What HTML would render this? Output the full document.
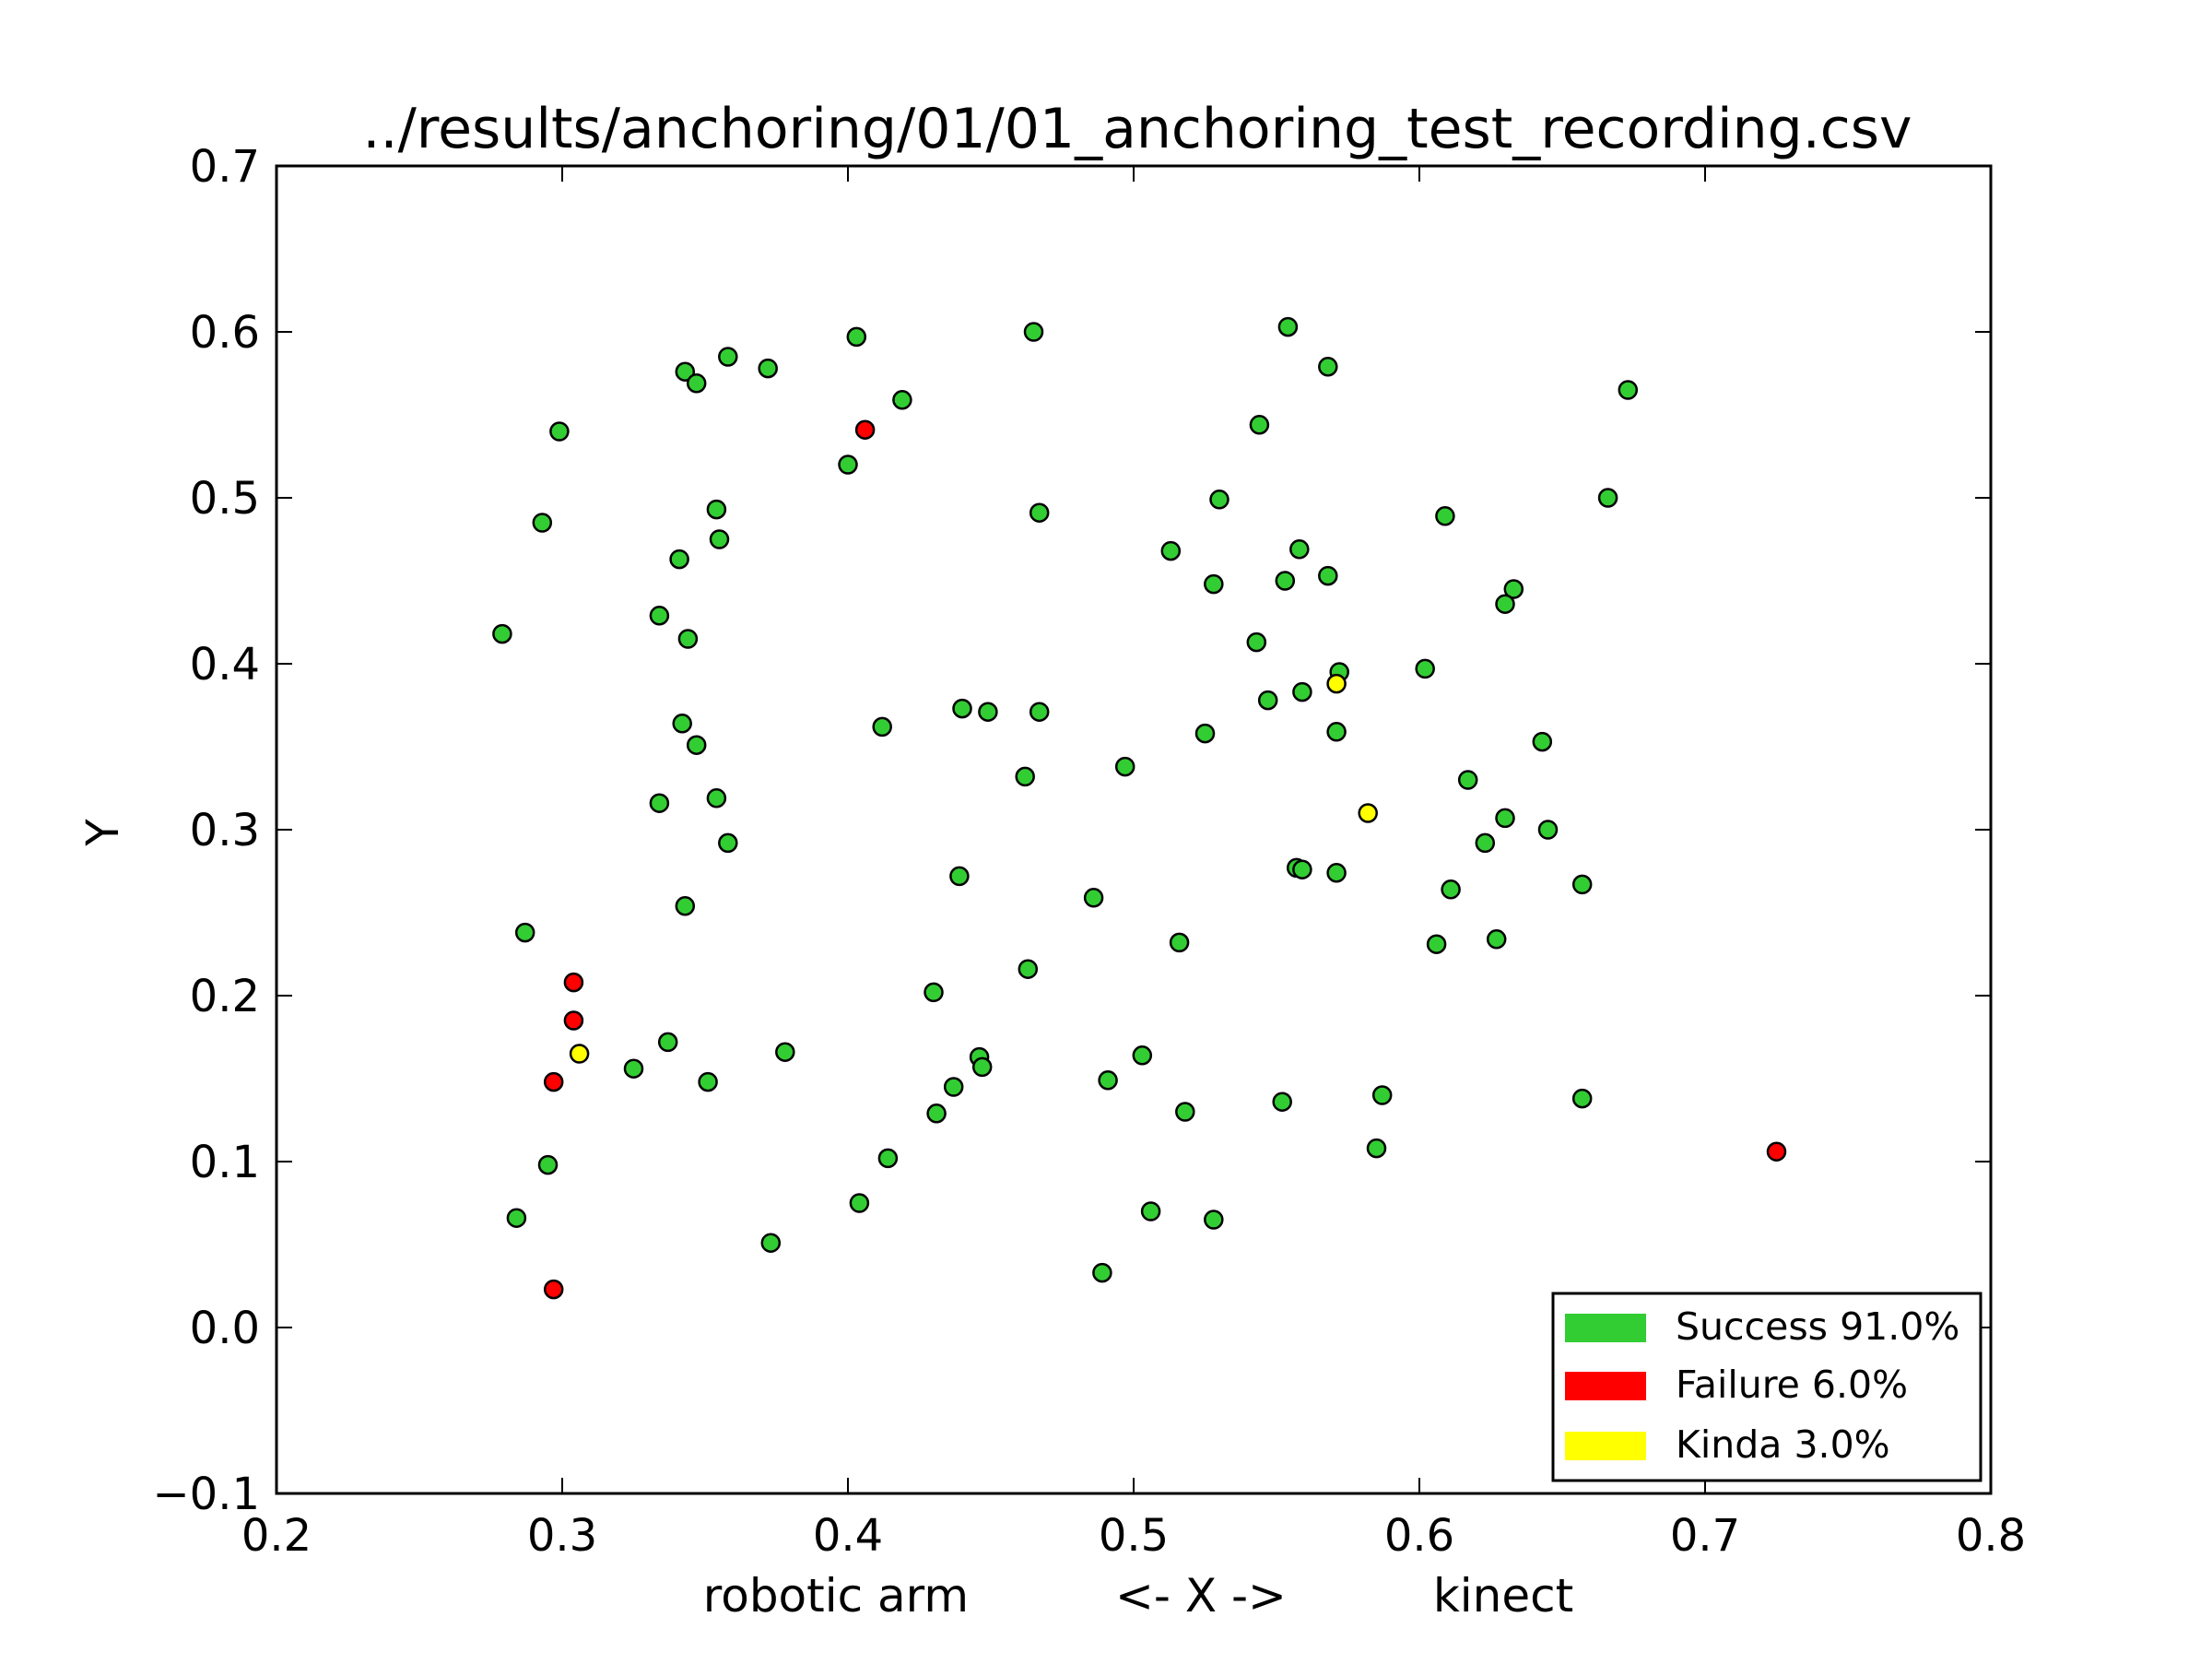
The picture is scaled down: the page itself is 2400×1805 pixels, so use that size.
<!DOCTYPE html>
<html><head><meta charset="utf-8"><style>
html,body{margin:0;padding:0;background:#fff}
svg text{font-family:"DejaVu Sans","Liberation Sans",sans-serif;fill:#000}
</style></head><body>
<svg id="chart" width="2400" height="1800" xmlns="http://www.w3.org/2000/svg">
<rect width="2400" height="1800" fill="#fff"/>
<text x="1234" y="160" font-size="60" text-anchor="middle">../results/anchoring/01/01_anchoring_test_recording.csv</text>
<g id="ticks"></g>
<g id="points"></g>
<rect x="300" y="180" width="1860" height="1440" fill="none" stroke="#000" stroke-width="3"/>
<text x="1235" y="1748" font-size="50" text-anchor="middle" style="white-space:pre" xml:space="preserve">robotic arm          &lt;- X -&gt;          kinect</text>
<text transform="translate(128,903) rotate(-90)" font-size="48" text-anchor="middle">Y</text>
<g>
<rect x="1685" y="1403" width="464" height="203" fill="#fff" stroke="#000" stroke-width="3"/>
<rect x="1698" y="1425" width="88" height="31" fill="#32cd32"/>
<text x="1818" y="1453" font-size="41">Success 91.0%</text>
<rect x="1698" y="1488" width="88" height="31" fill="#ff0000"/>
<text x="1818" y="1516" font-size="41">Failure 6.0%</text>
<rect x="1698" y="1553" width="88" height="31" fill="#ffff00"/>
<text x="1818" y="1581" font-size="41">Kinda 3.0%</text>
</g>
</svg>
<script>
const xTicks=[0.2,0.3,0.4,0.5,0.6,0.7,0.8];
const xTickLabels=["0.2","0.3","0.4","0.5","0.6","0.7","0.8"];
const yTicks=[-0.1,0.0,0.1,0.2,0.3,0.4,0.5,0.6,0.7];
const yTickLabels=["\u22120.1","0.0","0.1","0.2","0.3","0.4","0.5","0.6","0.7"];
const successX=[0.279,0.299,0.293,0.287,0.295,0.284,0.343,0.347,0.358,0.372,0.403,0.419,0.400,0.354,0.355,0.341,0.334,0.344,0.342,0.347,0.334,0.354,0.358,0.343,0.337,0.325,0.351,0.378,0.373,0.404,0.414,0.412,0.440,0.449,0.439,0.430,0.446,0.447,0.437,0.431,0.465,0.467,0.467,0.462,0.463,0.497,0.486,0.491,0.503,0.489,0.506,0.516,0.518,0.528,0.513,0.530,0.528,0.525,0.554,0.568,0.544,0.558,0.553,0.568,0.543,0.547,0.559,0.572,0.571,0.557,0.559,0.571,0.552,0.587,0.585,0.602,0.609,0.617,0.630,0.623,0.611,0.606,0.627,0.633,0.630,0.643,0.645,0.657,0.657,0.666,0.673];
const successY=[0.418,0.540,0.485,0.238,0.098,0.066,0.576,0.569,0.585,0.578,0.597,0.559,0.520,0.493,0.475,0.463,0.429,0.415,0.364,0.351,0.316,0.319,0.292,0.254,0.172,0.156,0.148,0.166,0.051,0.075,0.102,0.362,0.373,0.371,0.272,0.202,0.163,0.157,0.145,0.129,0.600,0.491,0.371,0.332,0.216,0.338,0.259,0.149,0.164,0.033,0.070,0.232,0.130,0.065,0.468,0.499,0.448,0.358,0.603,0.579,0.544,0.469,0.450,0.453,0.413,0.378,0.383,0.395,0.359,0.277,0.276,0.274,0.136,0.140,0.108,0.397,0.489,0.330,0.307,0.292,0.264,0.231,0.234,0.445,0.436,0.353,0.300,0.267,0.138,0.500,0.565];
const failureX=[0.406,0.304,0.304,0.297,0.297,0.725];
const failureY=[0.541,0.208,0.185,0.148,0.023,0.106];
const kindaX=[0.571,0.582,0.306];
const kindaY=[0.388,0.310,0.165];

const NS="http://www.w3.org/2000/svg";
const L=300,R=2160,T=180,B=1620;
function sx(v){return L+(v-0.2)/(0.8-0.2)*(R-L);}
function sy(v){return B-(v-(-0.1))/(0.7-(-0.1))*(B-T);}
const tg=document.getElementById('ticks');
function mk(tag,attrs){const e=document.createElementNS(NS,tag);for(const k in attrs)e.setAttribute(k,attrs[k]);return e;}
xTicks.forEach((v,i)=>{
  const x=sx(v);
  const t1=mk('line',{x1:x,x2:x,y1:B,y2:B-17,stroke:'#000','stroke-width':2});
  
  
  tg.appendChild(t1);
  const t2=mk('line',{x1:x,x2:x,y1:T,y2:T+17,stroke:'#000','stroke-width':2});
  
  
  tg.appendChild(t2);
  const lb=mk('text',{x:x,y:1682,'font-size':48,'text-anchor':'middle'});
  
  
  lb.textContent=xTickLabels[i];tg.appendChild(lb);
});
yTicks.forEach((v,i)=>{
  const y=sy(v);
  const t1=mk('line',{x1:L,x2:L+17,y1:y,y2:y,stroke:'#000','stroke-width':2});
  
  
  tg.appendChild(t1);
  const t2=mk('line',{x1:R,x2:R-17,y1:y,y2:y,stroke:'#000','stroke-width':2});
  
  
  tg.appendChild(t2);
  const lb=mk('text',{x:282,y:y+17,'font-size':48,'text-anchor':'end'});
  
  
  lb.textContent=yTickLabels[i];tg.appendChild(lb);
});
const pg=document.getElementById('points');
function draw(xs,ys,color,name){
  xs.forEach((v,i)=>{
    const c=mk('circle',{cx:sx(v),cy:sy(ys[i]),r:9.5,fill:color,stroke:'#000','stroke-width':2.5});
    
    
    pg.appendChild(c);
  });
}
draw(successX,successY,'#32cd32','point-success');
draw(failureX,failureY,'#ff0000','point-failure');
draw(kindaX,kindaY,'#ffff00','point-kinda');
</script>
</body></html>
